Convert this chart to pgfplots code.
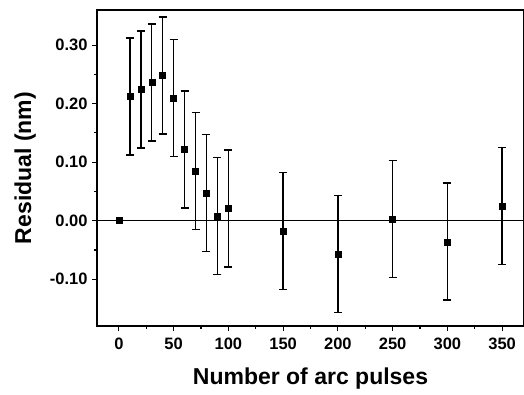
\documentclass[border=0pt]{standalone}
\usepackage{pgfplots}
\pgfplotsset{compat=1.18}
\usepackage{fontspec}
\setmainfont{Liberation Sans}
\begin{document}
\begin{tikzpicture}
\begin{axis}[
  name=ax,
  scale only axis,
  width=427pt, height=316pt,
  xmin=-20, xmax=370,
  ymin=-0.18, ymax=0.36,
  axis line style={line width=1.5pt},
  xtick={0,50,...,350},
  ytick={-0.1,0,0.1,0.2,0.3},
  minor x tick num=1,
  minor y tick num=1,
  tick align=outside,
  xtick pos=bottom, ytick pos=left,
  major tick length=5pt, minor tick length=3pt,
  tick style={line width=1.2pt, black},
  /pgf/number format/assume math mode=true,
  yticklabel style={/pgf/number format/fixed, /pgf/number format/fixed zerofill, /pgf/number format/precision=2, xshift=-1pt},
  xticklabel style={yshift=-3pt},
  ticklabel style={font=\bfseries\fontsize{16.5}{16.5}\selectfont},
  xlabel={Number of arc pulses},
  ylabel={Residual (nm)},
  label style={font=\bfseries\fontsize{23}{23}\selectfont},
  xlabel style={yshift=-12pt},
  ylabel style={yshift=7pt},
]
\addplot[black, line width=1.6pt, forget plot] coordinates {(-20,0) (370,0)};
\addplot[
  only marks, mark=square*, mark size=3pt, black,
  error bars/.cd, y dir=both, y explicit,
  error bar style={line width=1.5pt, black},
  error mark options={rotate=90, mark size=4pt, line width=1.5pt, black},
] coordinates {
  (0,0.000) +- (0,0)
  (10,0.212) +- (0,0.100)
  (20,0.224) +- (0,0.100)
  (30,0.236) +- (0,0.100)
  (40,0.248) +- (0,0.100)
  (50,0.210) +- (0,0.100)
  (60,0.122) +- (0,0.100)
  (70,0.085) +- (0,0.100)
  (80,0.047) +- (0,0.100)
  (90,0.008) +- (0,0.100)
  (100,0.021) +- (0,0.100)
  (150,-0.018) +- (0,0.100)
  (200,-0.057) +- (0,0.100)
  (250,0.003) +- (0,0.100)
  (300,-0.036) +- (0,0.100)
  (350,0.025) +- (0,0.100)
};
\end{axis}
\pgfresetboundingbox
\path[use as bounding box] ([shift={(-97pt,-69pt)}]ax.south west) rectangle ([shift={(0pt,10pt)}]ax.north east);
\end{tikzpicture}
\end{document}
